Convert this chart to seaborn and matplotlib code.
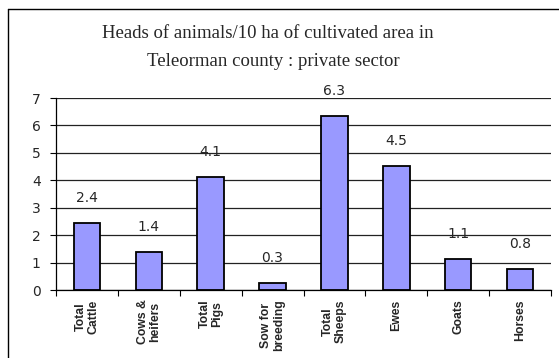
import matplotlib
matplotlib.use('Agg')
import matplotlib.pyplot as plt
from matplotlib.lines import Line2D
import seaborn as sns

# data
categories = ['Total\nCattle', 'Cows &\nheifers', 'Total\nPigs', 'Sow for\nbreeding',
              'Total\nSheeps', 'Ewes', 'Goats', 'Horses']
values = [2.45, 1.4, 4.12, 0.27, 6.33, 4.53, 1.13, 0.75]
value_labels = ['2.4', '1.4', '4.1', '0.3', '6.3', '4.5', '1.1', '0.8']

sns.set_style('white')

fig = plt.figure(figsize=(5.59, 3.58), dpi=100)
ax = fig.add_axes([56 / 559, 1 - 290 / 358, 495 / 559, 192 / 358])

sns.barplot(x=categories, y=values, color='#9999ff', saturation=1,
            edgecolor='black', linewidth=1.3, width=0.43, ax=ax)

ax.set_ylim(0, 7)
ax.set_xlim(-0.5, len(categories) - 0.5)
ax.set_yticks(range(0, 8))
ax.yaxis.grid(True, color='#222222', linewidth=0.9)
ax.set_axisbelow(True)
for s in ['top', 'right']:
    ax.spines[s].set_visible(False)
for s in ['left', 'bottom']:
    ax.spines[s].set_color('black')
    ax.spines[s].set_linewidth(0.9)

ax.tick_params(axis='y', length=4, width=0.8, color='black', labelsize=10, pad=7,
               left=True)
ax.tick_params(axis='x', which='major', length=0, pad=7)
ax.set_xticks([i - 0.5 for i in range(len(categories) + 1)], minor=True)
ax.tick_params(axis='x', which='minor', length=4, width=0.8, color='black', bottom=True)
ax.set_xticklabels(categories, rotation=90, fontsize=8.8, fontweight='bold',
                   family='Liberation Sans', linespacing=1.05, va='top', ha='center')
for lbl in ax.get_yticklabels():
    lbl.set_family('DejaVu Sans')

for i, (v, t) in enumerate(zip(values, value_labels)):
    ax.annotate(t, (i, v), xytext=(0, 13), textcoords='offset points',
                ha='center', va='bottom', fontsize=10, family='DejaVu Sans')

ax.set_xlabel('')
ax.set_ylabel('')

fig.text(268 / 559, 1 - 33 / 358, 'Heads of animals/10 ha of cultivated area in',
         ha='center', va='center', fontsize=13.5, family='Liberation Serif')
fig.text(273 / 559, 1 - 62 / 358, 'Teleorman county : private sector',
         ha='center', va='center', fontsize=13.5, family='Liberation Serif')

# chart frame (left and top edges visible in the crop)
fig.add_artist(Line2D([8 / 559, 8 / 559], [0, 1 - 9 / 358], color='black', linewidth=1))
fig.add_artist(Line2D([8 / 559, 1], [1 - 9 / 358, 1 - 9 / 358], color='black', linewidth=1))

fig.savefig('out.png', dpi=100)
